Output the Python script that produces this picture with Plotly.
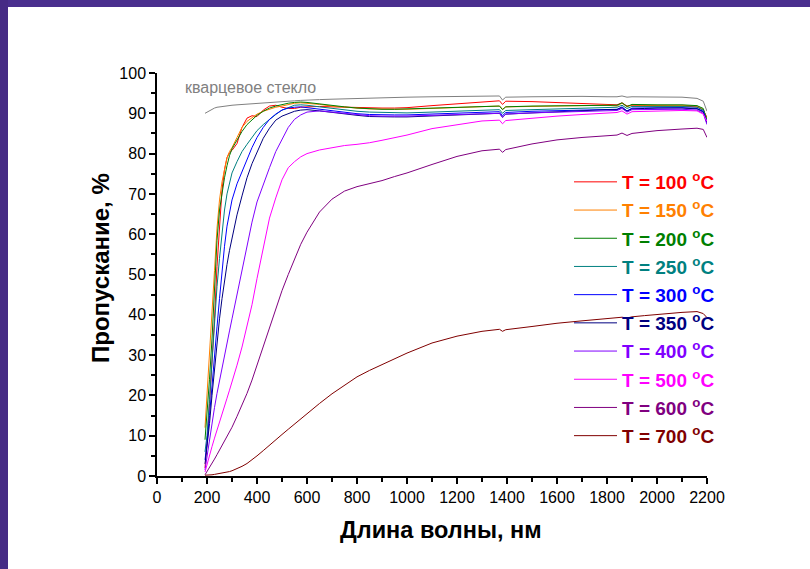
import plotly.graph_objects as go

# ---------------- data ----------------
wavelength = [192, 200, 210, 220, 230, 240, 250, 260, 270, 280, 290, 300, 320, 340, 360, 380,
              400, 425, 450, 475, 500, 525, 550, 575, 600, 650, 700, 750, 800, 850, 900, 950,
              1000, 1100, 1200, 1300, 1370, 1382, 1395, 1500, 1600, 1700, 1800, 1840, 1860,
              1880, 1900, 1950, 2000, 2100, 2160, 2185, 2200]

quartz = [90.0, 90.3, 90.7, 91.0, 91.3, 91.5, 91.6, 91.7, 91.8, 91.9, 92.0, 92.0, 92.1, 92.2, 92.3, 92.4,
          92.5, 92.6, 92.7, 92.8, 92.9, 93.0, 93.1, 93.2, 93.3, 93.4, 93.5, 93.6, 93.6, 93.7, 93.8, 93.9,
          94.0, 94.1, 94.2, 94.3, 94.3, 93.3, 94.0, 94.1, 94.2, 94.2, 94.1, 94.1, 94.3,
          94.0, 94.1, 94.1, 94.1, 94.0, 93.7, 93.0, 90.5]

t100 = [2.0, 8.0, 18.0, 28.0, 39.0, 52.0, 63.0, 71.0, 76.0, 79.0, 80.2, 80.8, 82.5, 86.5, 88.8, 89.4,
        89.2, 90.8, 91.8, 92.0, 91.5, 91.2, 91.2, 91.5, 91.6, 91.7, 91.6, 91.5, 91.4, 91.3, 91.3, 91.3,
        91.4, 91.9, 92.4, 92.9, 93.1, 92.2, 93.0, 92.9, 92.7, 92.5, 92.2, 92.1, 92.6,
        91.8, 92.0, 91.9, 91.9, 91.8, 91.6, 90.8, 89.0]

t150 = [12.0, 20.0, 28.0, 40.0, 51.0, 61.5, 68.5, 73.0, 76.5, 79.0, 80.5, 81.5, 84.0, 86.5, 88.0, 89.0,
        89.8, 90.5, 91.0, 91.5, 91.8, 92.2, 92.5, 92.6, 92.5, 92.2, 91.8, 91.5, 91.3, 91.1, 91.0, 91.0,
        91.0, 91.2, 91.4, 91.6, 91.8, 91.0, 91.6, 91.7, 91.8, 91.9, 92.0, 91.8, 92.5,
        91.6, 92.1, 92.0, 92.0, 92.0, 91.8, 91.0, 88.5]

t200 = [9.0, 15.0, 24.0, 34.0, 46.0, 58.5, 66.0, 70.5, 74.0, 77.0, 79.5, 81.2, 83.5, 85.5, 87.2, 88.4,
        89.5, 90.5, 91.3, 91.8, 92.2, 92.5, 92.7, 92.8, 92.7, 92.3, 91.9, 91.6, 91.3, 91.1, 91.0, 91.0,
        91.1, 91.3, 91.5, 91.7, 91.8, 90.9, 91.6, 91.8, 91.9, 92.0, 92.1, 92.0, 92.6,
        91.7, 92.2, 92.1, 92.1, 92.1, 91.9, 91.2, 88.3]

t250 = [6.0, 10.0, 19.0, 29.0, 38.0, 47.0, 54.0, 61.0, 66.0, 70.0, 73.0, 75.2, 78.0, 80.5, 82.3, 84.0,
        85.7, 87.2, 88.5, 89.7, 90.8, 91.5, 92.0, 92.1, 92.0, 91.6, 91.2, 90.8, 90.5, 90.3, 90.2, 90.1,
        90.1, 90.3, 90.5, 90.7, 90.9, 90.0, 90.7, 90.9, 91.1, 91.3, 91.5, 91.5, 92.0,
        91.2, 91.7, 91.7, 91.7, 91.7, 91.5, 90.8, 88.0]

t300 = [4.0, 8.0, 15.0, 23.0, 30.0, 37.0, 44.0, 51.0, 57.0, 62.0, 65.5, 68.5, 72.5, 75.5, 78.5, 81.5,
        84.0, 86.5, 88.5, 89.8, 90.8, 91.3, 91.5, 91.6, 91.4, 91.0, 90.6, 90.2, 89.9, 89.7, 89.6, 89.6,
        89.6, 89.8, 90.0, 90.2, 90.4, 89.4, 90.2, 90.5, 90.7, 90.9, 91.1, 91.0, 91.6,
        90.6, 91.3, 91.3, 91.4, 91.4, 91.2, 90.5, 87.8]

t350 = [3.0, 7.0, 13.0, 20.0, 27.0, 33.0, 39.0, 44.0, 48.5, 52.5, 56.0, 59.0, 64.8, 69.5, 74.0, 77.5,
        80.5, 83.8, 86.3, 88.3, 89.3, 90.0, 90.5, 90.8, 90.9, 90.6, 90.2, 89.8, 89.5, 89.2, 89.1, 89.1,
        89.1, 89.3, 89.5, 89.8, 90.0, 89.0, 89.8, 90.1, 90.4, 90.7, 90.9, 90.9, 91.4,
        90.5, 91.1, 91.2, 91.3, 91.3, 91.1, 90.3, 87.5]

t400 = [1.5, 5.0, 9.0, 13.0, 17.0, 20.5, 23.8, 27.0, 30.0, 33.0, 36.0, 39.0, 45.0, 51.0, 57.0, 63.0,
        68.0, 72.5, 76.5, 80.5, 83.5, 86.5, 88.5, 89.6, 90.3, 90.6, 90.3, 90.0, 89.6, 89.4, 89.3, 89.3,
        89.3, 89.5, 89.7, 89.9, 90.0, 89.0, 89.8, 90.1, 90.3, 90.5, 90.7, 90.7, 91.2,
        90.3, 90.9, 90.9, 91.0, 91.0, 90.8, 90.0, 87.2]

t500 = [1.0, 3.0, 5.2, 7.3, 9.4, 11.5, 13.5, 15.5, 17.4, 19.3, 21.3, 23.3, 27.5, 32.0, 37.0, 42.5,
        49.0, 56.5, 64.0, 69.0, 73.5, 76.5, 78.0, 79.2, 80.0, 80.9, 81.5, 82.0, 82.3, 82.7, 83.3, 84.0,
        84.6, 86.2, 87.2, 88.1, 88.3, 87.4, 88.2, 88.8, 89.3, 89.7, 90.1, 90.2, 90.6,
        89.8, 90.4, 90.5, 90.6, 90.7, 90.6, 89.8, 88.0]

t600 = [0.3, 1.2, 2.2, 3.2, 4.2, 5.3, 6.4, 7.5, 8.6, 9.7, 10.9, 12.1, 14.8, 17.6, 20.5, 23.8,
        27.5, 32.0, 37.0, 41.5, 46.0, 50.0, 53.8, 57.5, 60.5, 65.5, 68.7, 70.7, 71.8, 72.5, 73.3, 74.3,
        75.2, 77.3, 79.3, 80.7, 81.1, 80.3, 81.0, 82.4, 83.4, 84.0, 84.5, 84.6, 85.1,
        84.5, 85.0, 85.3, 85.7, 86.1, 86.3, 86.0, 84.0]

t700 = [0.2, 0.2, 0.2, 0.3, 0.4, 0.5, 0.6, 0.7, 0.8, 0.9, 1.1, 1.3, 1.8, 2.4, 3.1, 4.0,
        5.0, 6.3, 7.7, 9.0, 10.3, 11.6, 12.9, 14.2, 15.5, 18.0, 20.4, 22.6, 24.6, 26.2, 27.7, 29.1,
        30.5, 33.0, 34.7, 35.9, 36.4, 35.9, 36.3, 37.1, 37.9, 38.5, 39.1, 39.2, 39.4,
        39.2, 39.5, 39.8, 40.1, 40.6, 40.8, 40.3, 39.3]

temperatures = [100, 150, 200, 250, 300, 350, 400, 500, 600, 700]
series = [t100, t150, t200, t250, t300, t350, t400, t500, t600, t700]
text_colors = ["#FF0000", "#FF8000", "#007F00", "#008080", "#0000FF", "#000080",
               "#8000FF", "#FF00FF", "#800080", "#800000"]
line_colors = ["#FF0000", "#FF8000", "#007F00", "#008080", "#0000FF", "#000080",
               "#8000FF", "#FF00FF", "#800080", "#800000"]

x_title = "Длина волны, нм"
y_title = "Пропускание, %"
glass_label = "кварцевое стекло"

FONT = "Liberation Sans, Arial, sans-serif"

fig = go.Figure()

fig.add_trace(go.Scatter(x=wavelength, y=quartz, mode="lines",
                         line=dict(color="#808080", width=1), showlegend=False,
                         hoverinfo="skip"))

for t, vals, lc, tc in zip(temperatures, series, line_colors, text_colors):
    fig.add_trace(go.Scatter(
        x=wavelength, y=vals, mode="lines",
        line=dict(color=lc, width=1),
        name=f"<span style='color:{tc}'><b>T = {t} <sup>o</sup>C</b></span>",
        legendgroup=str(t),
    ))

fig.add_annotation(x=105, y=96.3, xref="x", yref="y", text=glass_label,
                   showarrow=False, xanchor="left", yanchor="middle",
                   font=dict(family=FONT, size=16, color="#808080"))

# axis titles
fig.add_annotation(x=(441 - 157) / 550, y=(476 - 530) / 403, xref="paper", yref="paper",
                   text=f"<b>{x_title}</b>", showarrow=False,
                   xanchor="center", yanchor="middle",
                   font=dict(family=FONT, size=23.5, color="black"))
fig.add_annotation(x=(100 - 157) / 550, y=(476 - 268) / 403, xref="paper", yref="paper",
                   text=f"<b>{y_title}</b>", showarrow=False, textangle=-90,
                   xanchor="center", yanchor="middle",
                   font=dict(family=FONT, size=24, color="black"))

axis_common = dict(showline=True, linecolor="black", linewidth=1.5, mirror=False,
                   ticks="outside", ticklen=6, tickwidth=1.5, tickcolor="black",
                   showgrid=False, zeroline=False,
                   tickfont=dict(family=FONT, size=16, color="black"))

fig.update_xaxes(range=[0, 2200], dtick=200, tick0=0,
                 minor=dict(ticks="outside", ticklen=4, dtick=100, tickcolor="black", tickwidth=1.5),
                 **axis_common)
fig.update_yaxes(range=[0, 100], dtick=10, tick0=0,
                 minor=dict(ticks="outside", ticklen=4, dtick=5, tickcolor="black", tickwidth=1.5),
                 **axis_common)

# purple frame bands (top and left)
fig.add_shape(type="rect", xref="paper", yref="paper",
              x0=-157 / 550, x1=653 / 550, y0=1 + 66 / 403, y1=1 + 73 / 403,
              fillcolor="#4A2F8E", line=dict(width=0), layer="above")
fig.add_shape(type="rect", xref="paper", yref="paper",
              x0=-157 / 550, x1=-149 / 550, y0=-93 / 403, y1=1 + 73 / 403,
              fillcolor="#462B85", line=dict(width=0), layer="above")

fig.update_layout(
    width=810, height=569,
    margin=dict(l=157, r=103, t=73, b=93, pad=0),
    paper_bgcolor="white", plot_bgcolor="white",
    font=dict(family=FONT, color="black"),
    showlegend=True,
    legend=dict(x=(569 - 157) / 550, y=(476 - 163) / 403, xanchor="left", yanchor="top",
                bgcolor="rgba(0,0,0,0)", borderwidth=0,
                font=dict(family=FONT, size=19),
                traceorder="grouped", tracegroupgap=0.5, itemwidth=43),
)

fig.write_html("out.html", config={"displayModeBar": False},
               post_script="document.body.style.margin='0';document.body.style.overflow='hidden';")
